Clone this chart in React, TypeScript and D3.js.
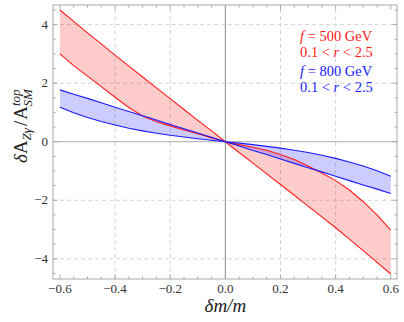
import React, { useEffect, useRef } from 'react';
import * as d3 from 'd3';

// delta m / m sample points
const dm = [-0.6, -0.55, -0.5, -0.45, -0.4, -0.35, -0.3, -0.25, -0.2, -0.15, -0.1, -0.05, 0,
  0.05, 0.1, 0.15, 0.2, 0.25, 0.3, 0.35, 0.4, 0.45, 0.5, 0.55, 0.6];

// f = 500 GeV, edges of the band for 0.1 < r < 2.5
const red500Steep = [4.5, 4.11, 3.72, 3.34, 2.96, 2.58, 2.21, 1.84, 1.47, 1.1, 0.73, 0.37, 0,
  -0.37, -0.73, -1.1, -1.46, -1.83, -2.2, -2.57, -2.94, -3.33, -3.72, -4.12, -4.52];
const red500Bent = [3.0, 2.6, 2.24, 1.88, 1.52, 1.17, 0.88, 0.68, 0.54, 0.4, 0.27, 0.13, 0,
  -0.1, -0.19, -0.29, -0.44, -0.61, -0.83, -1.07, -1.33, -1.65, -2.05, -2.5, -3.02];

// f = 800 GeV
const blue800Steep = [1.77, 1.62, 1.48, 1.33, 1.18, 1.03, 0.89, 0.74, 0.59, 0.44, 0.3, 0.15, 0,
  -0.15, -0.3, -0.44, -0.59, -0.74, -0.89, -1.03, -1.18, -1.33, -1.48, -1.62, -1.77];
const blue800Bent = [1.18, 0.99, 0.83, 0.69, 0.57, 0.46, 0.37, 0.29, 0.22, 0.16, 0.1, 0.05, 0,
  -0.05, -0.1, -0.16, -0.22, -0.29, -0.37, -0.46, -0.57, -0.69, -0.83, -0.99, -1.18];

const xTicks = [-0.6, -0.4, -0.2, 0, 0.2, 0.4, 0.6];
const xTickLabels = ['\u22120.6', '\u22120.4', '\u22120.2', '0.0', '0.2', '0.4', '0.6'];
const yTicks = [-4, -2, 0, 2, 4];
const yTickLabels = ['\u22124', '\u22122', '0', '2', '4'];

const bands = [
  { name: 'f500', hi: red500Steep, lo: red500Bent, line: '#ff1a1a', fill: 'rgba(255,0,0,0.2)' },
  { name: 'f800', hi: blue800Steep, lo: blue800Bent, line: '#1a1aff', fill: 'rgba(0,0,255,0.2)' },
];

const legend = [
  { f: '500', color: '#ff1a1a' },
  { f: '800', color: '#1a1aff' },
];

const FONT = "'Liberation Serif', 'Times New Roman', 'DejaVu Serif', serif";

const App = () => {
  const ref = useRef<SVGSVGElement>(null);

  useEffect(() => {
    const width = 404;
    const height = 322;
    const margin = { top: 5, right: 7, bottom: 43, left: 53 };

    const svg = d3.select(ref.current);
    svg.selectAll('*').remove();

    const x = d3.scaleLinear().domain([-0.625, 0.6225]).range([margin.left, width - margin.right]);
    const y = d3.scaleLinear().domain([-4.69, 4.67]).range([height - margin.bottom, margin.top]);
    const [x0, x1] = x.range();
    const [y0, y1] = y.range();

    // grid
    const grid = svg.append('g').attr('stroke', '#d4d4d4').attr('stroke-dasharray', '4,3').attr('stroke-width', 1);
    xTicks.filter(t => t !== 0 && Math.abs(t) < 0.5).forEach(t => {
      grid.append('line').attr('x1', x(t)).attr('x2', x(t)).attr('y1', y0).attr('y2', y1);
    });
    yTicks.filter(t => t !== 0).forEach(t => {
      grid.append('line').attr('x1', x0).attr('x2', x1).attr('y1', y(t)).attr('y2', y(t));
    });

    // zero axes
    svg.append('line').attr('x1', x0).attr('x2', x1).attr('y1', y(0)).attr('y2', y(0))
      .attr('stroke', '#bdbdbd').attr('stroke-width', 1.3);
    svg.append('line').attr('x1', x(0)).attr('x2', x(0)).attr('y1', y0).attr('y2', y1)
      .attr('stroke', '#8c8c8c').attr('stroke-width', 1);

    // bands
    const pts = (arr: number[]) => dm.map((d, i) => [d, arr[i]] as [number, number]);
    bands.forEach(b => {
      const area = d3.area<number>()
        .x(i => x(dm[i]))
        .y0(i => y(b.hi[i]))
        .y1(i => y(b.lo[i]));
      svg.append('path').datum(d3.range(dm.length)).attr('d', area).attr('fill', b.fill).attr('stroke', 'none');
    });
    const line = d3.line<[number, number]>().x(d => x(d[0])).y(d => y(d[1]));
    bands.forEach(b => {
      [b.hi, b.lo].forEach(arr => {
        svg.append('path').datum(pts(arr)).attr('d', line)
          .attr('fill', 'none').attr('stroke', b.line).attr('stroke-width', 1.1);
      });
    });

    // frame
    svg.append('rect').attr('x', x0).attr('y', y1).attr('width', x1 - x0).attr('height', y0 - y1)
      .attr('fill', 'none').attr('stroke', '#a8a8a8').attr('stroke-width', 1);

    const ticks = svg.append('g').attr('stroke', '#a8a8a8').attr('stroke-width', 1);
    d3.range(-12, 13).forEach(k => {
      const t = k * 0.05;
      const len = k % 4 === 0 ? 4.5 : 2.5;
      ticks.append('line').attr('x1', x(t)).attr('x2', x(t)).attr('y1', y0).attr('y2', y0 - len);
      ticks.append('line').attr('x1', x(t)).attr('x2', x(t)).attr('y1', y1).attr('y2', y1 + len);
    });
    d3.range(-9, 10).forEach(k => {
      const t = k * 0.5;
      const len = k % 4 === 0 ? 4.5 : 2.5;
      ticks.append('line').attr('x1', x0).attr('x2', x0 + len).attr('y1', y(t)).attr('y2', y(t));
      ticks.append('line').attr('x1', x1).attr('x2', x1 - len).attr('y1', y(t)).attr('y2', y(t));
    });

    // tick labels
    svg.append('g').selectAll('text').data(xTicks).enter().append('text')
      .attr('x', d => x(d)).attr('y', y0 + 14)
      .attr('text-anchor', 'middle').style('font-family', FONT).style('font-size', '13px').attr('fill', '#333')
      .text((d, i) => xTickLabels[i]);
    svg.append('g').selectAll('text').data(yTicks).enter().append('text')
      .attr('x', x0 - 5).attr('y', d => y(d) + 4)
      .attr('text-anchor', 'end').style('font-family', FONT).style('font-size', '13px').attr('fill', '#333')
      .text((d, i) => yTickLabels[i]);

    // x title
    svg.append('text').attr('x', x(0)).attr('y', 312)
      .attr('text-anchor', 'middle').style('font-family', FONT).style('font-size', '19px').attr('fill', '#222')
      .style('font-style', 'italic')
      .text('\u03b4m/m');

    // y title
    const yt = svg.append('text').attr('transform', 'translate(27,126) rotate(-90)')
      .attr('text-anchor', 'middle').style('font-family', FONT).style('font-size', '19px').attr('fill', '#222');
    yt.append('tspan').style('font-style', 'italic').text('\u03b4');
    yt.append('tspan').text('A');
    yt.append('tspan').style('font-style', 'italic').style('font-size', '13px').attr('dy', 4).text('Z\u03b3');
    yt.append('tspan').attr('dy', -4).attr('dx', 2).text('/');
    yt.append('tspan').attr('dx', 1).text('A');
    yt.append('tspan').style('font-style', 'italic').style('font-size', '13px').attr('dy', -7).text('top');
    yt.append('tspan').style('font-style', 'italic').style('font-size', '13px').attr('dy', 12).attr('dx', -17).text('SM');

    // legend
    legend.forEach((l, i) => {
      const top = 41 + i * 35;
      const t1 = svg.append('text').attr('x', 300).attr('y', top)
        .style('font-family', FONT).style('font-size', '14.5px').attr('fill', l.color);
      t1.append('tspan').style('font-style', 'italic').text('f');
      t1.append('tspan').text(` = ${l.f} GeV`);
      const t2 = svg.append('text').attr('x', 300).attr('y', top + 16)
        .style('font-family', FONT).style('font-size', '14.5px').attr('fill', l.color);
      t2.append('tspan').text('0.1 < ');
      t2.append('tspan').style('font-style', 'italic').text('r');
      t2.append('tspan').text(' < 2.5');
    });
  }, []);

  return (
    <svg ref={ref} width={404} height={322}
      style={{ position: 'absolute', left: 0, top: 0, background: '#fff', display: 'block' }} />
  );
};

export default App;
